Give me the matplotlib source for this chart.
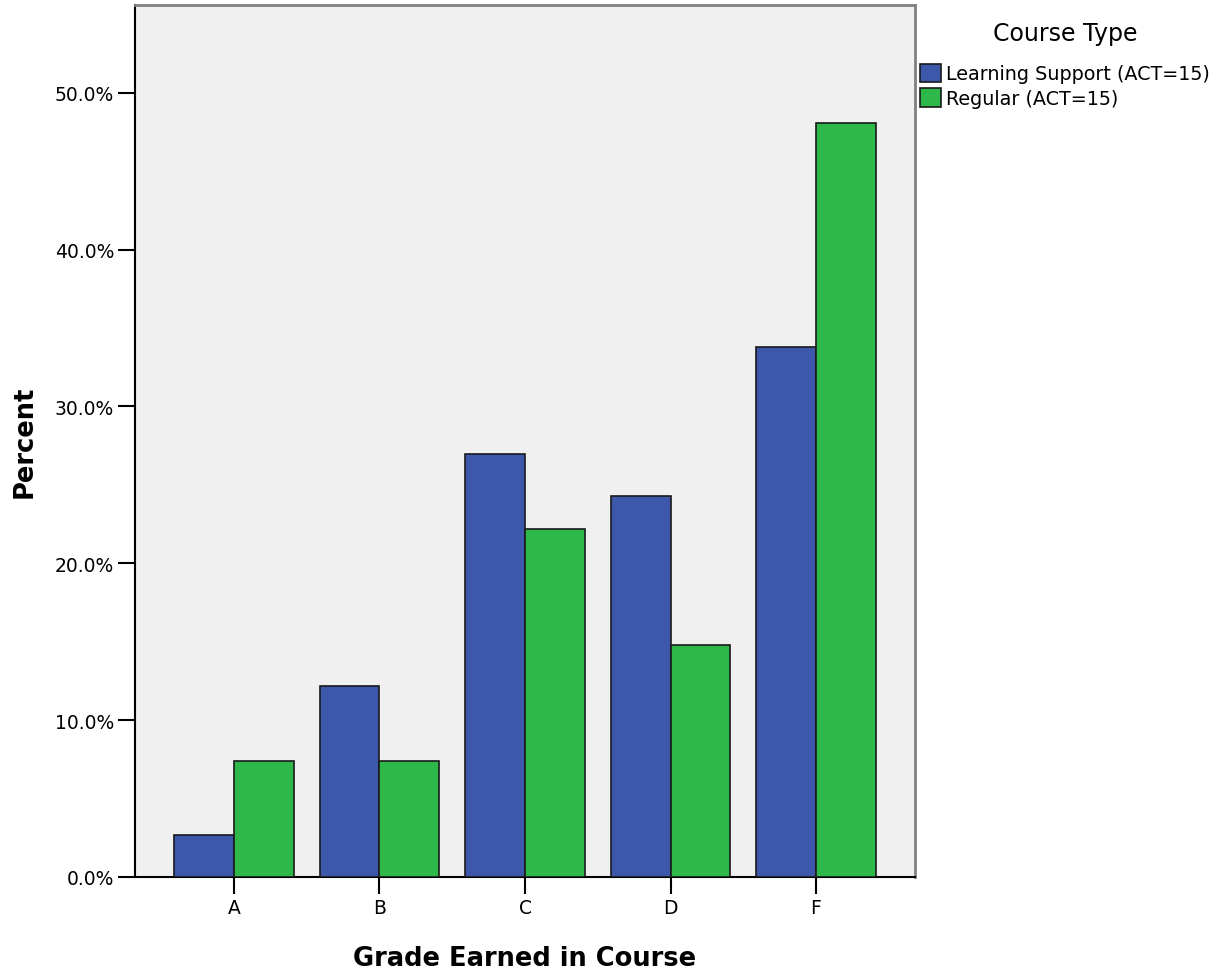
import matplotlib
matplotlib.use("Agg")
import matplotlib.pyplot as plt
import numpy as np
from matplotlib.ticker import FuncFormatter

# values (percent)
grades = ["A", "B", "C", "D", "F"]
learning_support = [2.7, 12.2, 27.0, 24.3, 33.8]
regular = [7.4, 7.4, 22.2, 14.8, 48.1]
series_names = ["Learning Support (ACT=15)", "Regular (ACT=15)"]

blue = "#3d57ab"
green = "#2fb84a"

plt.rcParams["font.family"] = ["DejaVu Sans"]

fig = plt.figure(figsize=(12.23, 9.70), dpi=100)
ax = fig.add_axes([135 / 1223, 92 / 970, 780 / 1223, 872 / 970])
ax.set_facecolor("#f0f0f0")

x = np.arange(len(grades))
w = 0.41
ax.bar(x - w / 2, learning_support, w, color=blue, edgecolor="#1a1a1a",
       linewidth=1.2, label=series_names[0], zorder=3)
ax.bar(x + w / 2, regular, w, color=green, edgecolor="#1a1a1a",
       linewidth=1.2, label=series_names[1], zorder=3)

ax.set_xlim(-0.68, 4.68)
ax.set_ylim(0, 55.6)
ax.set_xticks(x)
ax.set_xticklabels(grades)
ax.set_yticks(np.arange(0, 51, 10))
ax.yaxis.set_major_formatter(FuncFormatter(lambda v, p: f"{v:.1f}%"))
ax.tick_params(axis="both", direction="out", length=12, width=1.5,
               labelsize=13.5, colors="black", pad=3)

for s in ["left", "bottom"]:
    ax.spines[s].set_color("black")
    ax.spines[s].set_linewidth(1.5)
for s in ["top", "right"]:
    ax.spines[s].set_color("#808080")
    ax.spines[s].set_linewidth(2)

ax.set_xlabel("Grade Earned in Course", fontsize=18.5, fontweight="bold", labelpad=20)
ax.set_ylabel("Percent", fontsize=18.5, fontweight="bold", labelpad=12)

# legend: title drawn separately so the gap matches
fig.text(1065 / 1223, 1 - 34 / 970, "Course Type", fontsize=17,
         ha="center", va="center")
leg = fig.legend(loc="upper left", bbox_to_anchor=(912 / 1223, 1 - 57 / 970),
                 frameon=False, fontsize=13.8, handlelength=1.1,
                 handleheight=1.1, handletextpad=0.3, labelspacing=0.25,
                 borderaxespad=0)

fig.savefig("out.png", dpi=100)
